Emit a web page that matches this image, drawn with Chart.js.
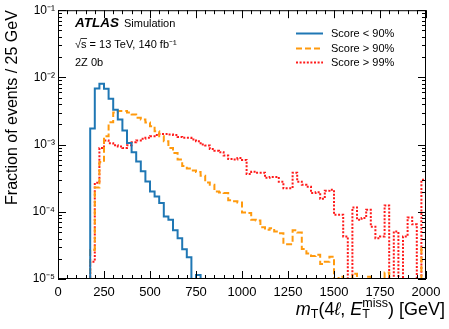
<!DOCTYPE html>
<html>
<head>
<meta charset="utf-8">
<script src="https://cdn.jsdelivr.net/npm/chart.js@4.4.1/dist/chart.umd.min.js"></script>
<style>
  html, body { margin: 0; padding: 0; background: #fff; }
</style>
</head>
<body>
<canvas id="myChart" width="449" height="329"></canvas>
<script>
// mT(4l, ETmiss) histograms, 25 GeV bins from 0 to 2000 GeV, fraction of events per bin
var binWidth = 25;
var xMin = 0, xMax = 2000;
var xTicks = [0, 250, 500, 750, 1000, 1250, 1500, 1750, 2000];
var yTicks = [1e-5, 1e-4, 1e-3, 1e-2, 1e-1];
var seriesLabels = ['Score < 90%', 'Score > 90%', 'Score > 99%'];
var seriesColors = ['#1f77b4', '#ff9a0e', '#ff1a1a'];

// one row = 10 bins (250 GeV)
var scoreBelow90 = [
  0, 0, 0, 0, 0, 0, 0, 1.73e-3, 6.85e-3, 8.05e-3,
  6.8e-3, 4.8e-3, 3.3e-3, 2.36e-3, 1.62e-3, 1.06e-3, 7.7e-4, 5.6e-4, 4.0e-4, 2.83e-4,
  2.01e-4, 1.69e-4, 1.35e-4, 8.5e-5, 7.6e-5, 5.3e-5, 4.05e-5, 2.77e-5, 2.11e-5, 0,
  1.15e-5, 0, 0, 0, 0, 0, 0, 0, 0, 0,
  0, 0, 0, 0, 0, 0, 0, 0, 0, 0,
  0, 0, 0, 0, 0, 0, 0, 0, 0, 0,
  0, 0, 0, 0, 0, 0, 0, 0, 0, 0,
  0, 0, 0, 0, 0, 0, 0, 0, 0, 0
];
var scoreAbove90 = [
  0, 0, 0, 0, 0, 0, 0, 2.7e-5, 2.3e-4, 5.5e-4,
  1.33e-3, 2.15e-3, 3.0e-3, 3.15e-3, 3.15e-3, 3.0e-3, 2.8e-3, 2.5e-3, 2.36e-3, 2.13e-3,
  1.87e-3, 1.58e-3, 1.33e-3, 1.12e-3, 8.9e-4, 7.5e-4, 6.0e-4, 4.8e-4, 4.4e-4, 4.1e-4,
  3.9e-4, 3.45e-4, 2.74e-4, 2.53e-4, 2.0e-4, 1.94e-4, 1.9e-4, 1.48e-4, 1.43e-4, 1.38e-4,
  9.8e-5, 9.6e-5, 7.6e-5, 7.4e-5, 5.9e-5, 5.4e-5, 5.7e-5, 5.1e-5, 4.8e-5, 3.3e-5,
  3.3e-5, 5.3e-5, 4.9e-5, 2.8e-5, 2.4e-5, 2.2e-5, 2.3e-5, 1.67e-5, 1.8e-5, 2.15e-5,
  0, 1.08e-5, 0, 0, 1.2e-5, 0, 0, 1.08e-5, 0, 0,
  0, 1.25e-5, 0, 0, 0, 0, 0, 0, 0, 2.9e-5
];
var scoreAbove99 = [
  0, 0, 0, 0, 0, 0, 0, 1.8e-5, 2.7e-4, 8.9e-4,
  1.15e-3, 1.05e-3, 9.8e-4, 9.4e-4, 8.9e-4, 9.8e-4, 1.08e-3, 1.15e-3, 1.22e-3, 1.26e-3,
  1.33e-3, 1.39e-3, 1.44e-3, 1.44e-3, 1.41e-3, 1.39e-3, 1.3e-3, 1.26e-3, 1.26e-3, 1.19e-3,
  1.12e-3, 1.0e-3, 9.7e-4, 8.6e-4, 8.1e-4, 7.7e-4, 6.9e-4, 6.1e-4, 6.0e-4, 6.3e-4,
  5.9e-4, 3.65e-4, 3.95e-4, 3.8e-4, 3.8e-4, 3.2e-4, 3.3e-4, 3.3e-4, 2.8e-4, 2.24e-4,
  2.24e-4, 3.8e-4, 2.8e-4, 2.53e-4, 2.36e-4, 1.9e-4, 1.95e-4, 1.56e-4, 2.05e-4, 2.13e-4,
  9.0e-5, 9.0e-5, 4.3e-5, 0, 1.16e-4, 7.6e-5, 8.1e-5, 1.07e-4, 6.0e-5, 4.05e-5,
  4.3e-5, 1.24e-4, 0, 5.1e-5, 0, 4.3e-5, 8.2e-5, 6.5e-5, 0, 3.0e-4
];

var fam = '"Liberation Sans", Arial, Helvetica, sans-serif';
var emptyBinFloor = 1e-9; // empty bins fall off the bottom of the log axis

function stepPoints(values) {
  var pts = values.map(function (v, i) {
    return { x: xMin + i * binWidth, y: v > 0 ? v : emptyBinFloor };
  });
  pts.push({ x: xMin + values.length * binWidth, y: pts[pts.length - 1].y });
  return pts;
}

var supMap = { '-': '\u207B', '0': '\u2070', '1': '\u00B9', '2': '\u00B2', '3': '\u00B3', '4': '\u2074', '5': '\u2075' };
function powerLabel(v) {
  var e = String(Math.round(Math.log10(v)));
  return '10' + e.split('').map(function (ch) { return supMap[ch]; }).join('');
}

function drawRich(c, parts, x, baseline) {
  parts.forEach(function (p) {
    c.font = p.font;
    c.fillText(p.text, x, baseline + (p.dy || 0));
    var w = c.measureText(p.text).width;
    if (p.sup) {
      c.font = p.supFont;
      c.fillText(p.sup, x, baseline - 8);
      w = Math.max(w, c.measureText(p.sup).width);
    }
    x += w;
  });
  return x;
}
function richWidth(c, parts) {
  var w = 0;
  parts.forEach(function (p) {
    c.font = p.font;
    var pw = c.measureText(p.text).width;
    if (p.sup) { c.font = p.supFont; pw = Math.max(pw, c.measureText(p.sup).width); }
    w += pw;
  });
  return w;
}

var atlasDecor = {
  id: 'atlasDecor',
  afterDraw: function (chart) {
    var c = chart.ctx, a = chart.chartArea, xs = chart.scales.x, ys = chart.scales.y;
    c.save();
    // frame
    c.strokeStyle = '#000';
    c.lineWidth = 1;
    c.strokeRect(a.left + 0.5, a.top + 0.5, a.right - a.left - 1, a.bottom - a.top - 1);

    // inward ticks on all four sides
    c.beginPath();
    for (var g = xMin; g <= xMax; g += 50) {
      var px = Math.round(xs.getPixelForValue(g)) + 0.5;
      var len = g % 250 === 0 ? 8 : 4;
      c.moveTo(px, a.bottom); c.lineTo(px, a.bottom - len);
      c.moveTo(px, a.top); c.lineTo(px, a.top + len);
    }
    for (var d = -5; d <= -1; d++) {
      for (var m = 1; m <= 9; m++) {
        var v = m * Math.pow(10, d);
        if (v > 0.1 + 1e-12) break;
        var py = Math.round(ys.getPixelForValue(v)) + 0.5;
        var l = m === 1 ? 8 : 4;
        c.moveTo(a.left, py); c.lineTo(a.left + l, py);
        c.moveTo(a.right, py); c.lineTo(a.right - l, py);
      }
    }
    c.stroke();

    // ATLAS label
    c.fillStyle = '#000';
    c.textBaseline = 'alphabetic';
    c.textAlign = 'left';
    c.font = 'italic bold 13.5px ' + fam;
    c.fillText('ATLAS', 75, 27);
    c.font = '11px ' + fam;
    c.fillText('Simulation', 124, 27);
    var sx = 75;
    c.fillText('\u221A', sx, 48);
    sx += c.measureText('\u221A').width;
    var sw = c.measureText('s').width;
    c.fillText('s', sx, 48);
    c.beginPath(); c.lineWidth = 0.8;
    c.moveTo(sx - 0.5, 38.5); c.lineTo(sx + sw + 0.5, 38.5); c.stroke();
    c.fillText(' = 13 TeV, 140 fb\u207B\u00B9', sx + sw, 48);
    c.fillText('2Z 0b', 75, 66);

    // legend
    chart.data.datasets.forEach(function (ds, i) {
      var y = Math.round(33 + i * 14.5) + 0.5;
      c.beginPath();
      c.strokeStyle = ds.borderColor;
      c.lineWidth = ds.borderWidth;
      c.setLineDash(ds.borderDash || []);
      c.moveTo(296, y); c.lineTo(323, y);
      c.stroke();
      c.setLineDash([]);
      c.fillStyle = '#000';
      c.font = '11px ' + fam;
      c.textBaseline = 'middle';
      c.fillText(ds.label, 331, y);
    });

    // x-axis title: mT(4l, ET^miss) [GeV], right aligned
    c.textBaseline = 'alphabetic';
    c.fillStyle = '#000';
    var big = '18px ' + fam, ital = 'italic 18px ' + fam, sm = '12.5px ' + fam;
    var parts = [
      { text: 'm', font: ital },
      { text: 'T', font: sm, dy: 3 },
      { text: '(4', font: big },
      { text: '\u2113', font: ital },
      { text: ', ', font: big },
      { text: 'E', font: ital },
      { text: 'T', font: sm, dy: 3, sup: 'miss', supFont: sm },
      { text: ') [GeV]', font: big }
    ];
    var tw = richWidth(c, parts);
    drawRich(c, parts, 445 - tw, 315);
    c.restore();
  }
};

var ctx = document.getElementById('myChart').getContext('2d');
var myChart = new Chart(ctx, {
  type: 'line',
  data: {
    datasets: [
      { label: seriesLabels[0], data: stepPoints(scoreBelow90), borderColor: seriesColors[0], borderWidth: 2 },
      { label: seriesLabels[1], data: stepPoints(scoreAbove90), borderColor: seriesColors[1], borderWidth: 2, borderDash: [6, 3] },
      { label: seriesLabels[2], data: stepPoints(scoreAbove99), borderColor: seriesColors[2], borderWidth: 2, borderDash: [2, 1.6] }
    ].map(function (ds) {
      ds.stepped = 'before'; // hold each bin's value until the next bin edge
      ds.pointRadius = 0;
      ds.fill = false;
      ds.clip = 0;
      ds.tension = 0;
      return ds;
    })
  },
  options: {
    responsive: false,
    animation: false,
    devicePixelRatio: 1,
    layout: { padding: { top: 10, right: 23, left: 0, bottom: 0 } },
    plugins: { legend: { display: false }, tooltip: { enabled: false } },
    scales: {
      x: {
        type: 'linear',
        min: xMin,
        max: xMax,
        afterBuildTicks: function (scale) { scale.ticks = xTicks.map(function (v) { return { value: v }; }); },
        afterFit: function (scale) { scale.height = 50; },
        grid: { display: false, drawTicks: false },
        border: { display: false },
        ticks: {
          color: '#000', padding: 6, maxRotation: 0, autoSkip: false, font: { family: fam, size: 13 },
          callback: function (v) { return String(v); }
        }
      },
      y: {
        type: 'logarithmic',
        min: yTicks[0],
        max: yTicks[yTicks.length - 1],
        afterBuildTicks: function (scale) { scale.ticks = yTicks.map(function (v) { return { value: v }; }); },
        afterFit: function (scale) { scale.width = 58; },
        grid: { display: false, drawTicks: false },
        border: { display: false },
        ticks: {
          color: '#000', padding: 3, autoSkip: false, font: { family: fam, size: 12 },
          callback: function (v) { return powerLabel(v); }
        },
        title: {
          display: true,
          text: 'Fraction of events / 25 GeV',
          align: 'end',
          color: '#000',
          padding: { top: 3, bottom: 0 },
          font: { family: fam, size: 16 }
        }
      }
    }
  },
  plugins: [atlasDecor]
});
</script>
</body>
</html>
